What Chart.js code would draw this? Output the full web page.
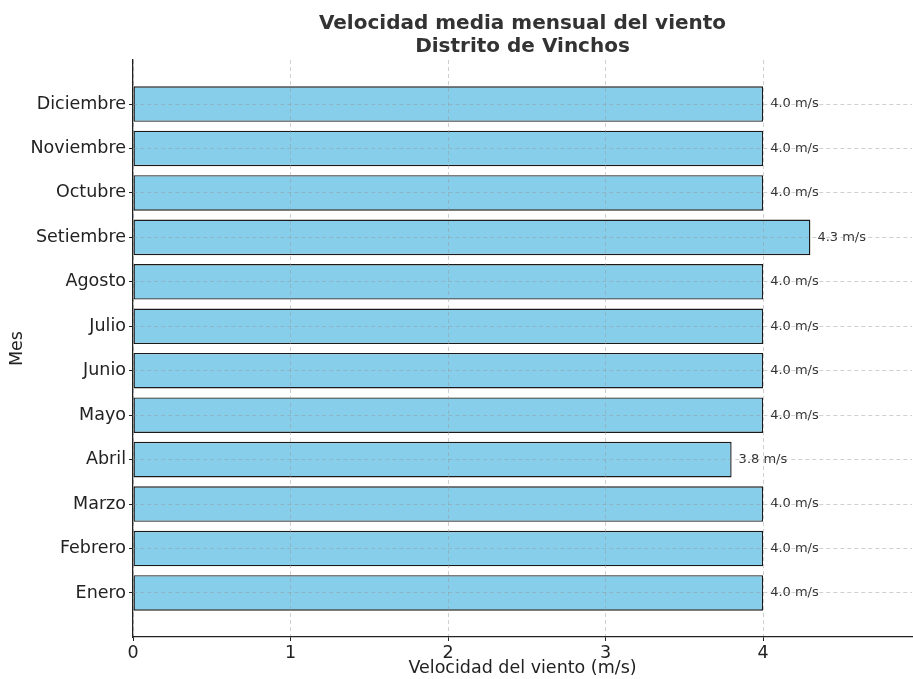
<!DOCTYPE html>
<html>
<head>
<meta charset="utf-8">
<script src="https://cdn.jsdelivr.net/npm/chart.js@4"></script>
<style>
  html, body { margin: 0; padding: 0; background: #fff; }
  #wrap { width: 913px; height: 679px; }
</style>
</head>
<body>
<div id="wrap"><canvas id="windChart"></canvas></div>
<script>
// Datos: velocidad media mensual (m/s), Enero abajo
const months = ['Enero', 'Febrero', 'Marzo', 'Abril', 'Mayo', 'Junio',
                'Julio', 'Agosto', 'Setiembre', 'Octubre', 'Noviembre', 'Diciembre'];
const speeds = [4.0, 4.0, 4.0, 3.8, 4.0, 4.0, 4.0, 4.0, 4.3, 4.0, 4.0, 4.0];
const xTicks = [0, 1, 2, 3, 4];
const titleLines = ['Velocidad media mensual del viento', 'Distrito de Vinchos'];

const FONT = 'DejaVu Sans';
const gridColor = 'rgba(150,150,150,0.45)';

// etiquetas "4.0 m/s" al final de cada barra
const valueLabels = {
    id: 'valueLabels',
    afterDatasetsDraw(chart) {
        const ctx = chart.ctx;
        const meta = chart.getDatasetMeta(0);
        const xs = chart.scales.x;
        ctx.save();
        ctx.font = '13px "' + FONT + '"';
        ctx.fillStyle = '#333';
        ctx.textAlign = 'left';
        ctx.textBaseline = 'middle';
        meta.data.forEach((bar, i) => {
            const v = speeds[i];
            ctx.fillText(v.toFixed(1) + ' m/s', xs.getPixelForValue(v) + 7, bar.y);
        });
        ctx.restore();
    }
};

const ctx = document.getElementById('windChart').getContext('2d');
new Chart(ctx, {
    type: 'bar',
    data: {
        datasets: [{
            data: speeds.map((v, i) => ({ x: v, y: i })),
            backgroundColor: '#87CEEB',
            borderColor: '#1a1a1a',
            borderWidth: 1.4,
            borderSkipped: false,
            barPercentage: 1,
            categoryPercentage: 0.8
        }]
    },
    options: {
        indexAxis: 'y',
        responsive: true,
        maintainAspectRatio: false,
        animation: false,
        layout: { padding: { left: 0, right: 1, top: 0, bottom: 0 } },
        plugins: {
            legend: { display: false },
            tooltip: { enabled: false },
            title: {
                display: true,
                text: titleLines,
                fullSize: false,
                color: '#333',
                font: { family: FONT, size: 20, weight: 'bold', lineHeight: 1.15 },
                padding: { top: 12, bottom: 2 }
            }
        },
        scales: {
            x: {
                type: 'linear',
                min: 0,
                max: 4.945,
                afterFit: s => { s.height = 42; },
                afterBuildTicks: s => { s.ticks = xTicks.map(v => ({ value: v })); },
                ticks: {
                    color: '#222',
                    font: { family: FONT, size: 17.5 },
                    padding: 2
                },
                grid: {
                    z: 1,
                    color: gridColor,
                    tickColor: '#222',
                    tickLength: 4,
                    tickWidth: 1
                },
                border: { z: 2, color: '#222', width: 1.3, dash: [4, 3] },
                title: {
                    display: true,
                    text: 'Velocidad del viento (m/s)',
                    color: '#222',
                    font: { family: FONT, size: 17.5 },
                    padding: { top: 0, bottom: 0 }
                }
            },
            y: {
                type: 'linear',
                min: -0.99,
                max: 11.99,
                offset: false,
                afterFit: s => { s.width = 133; },
                afterBuildTicks: s => { s.ticks = months.map((m, i) => ({ value: i })); },
                ticks: {
                    color: '#222',
                    font: { family: FONT, size: 17.5 },
                    padding: 3,
                    callback: v => months[v]
                },
                grid: {
                    z: 1,
                    offset: false,
                    color: gridColor,
                    tickColor: '#222',
                    tickLength: 4,
                    tickWidth: 1
                },
                border: { z: 2, color: '#222', width: 1.3, dash: [4, 3] },
                title: {
                    display: true,
                    text: 'Mes',
                    color: '#222',
                    font: { family: FONT, size: 17.5 },
                    padding: { top: 7, bottom: 0 }
                }
            }
        }
    },
    plugins: [valueLabels]
});
</script>
</body>
</html>
